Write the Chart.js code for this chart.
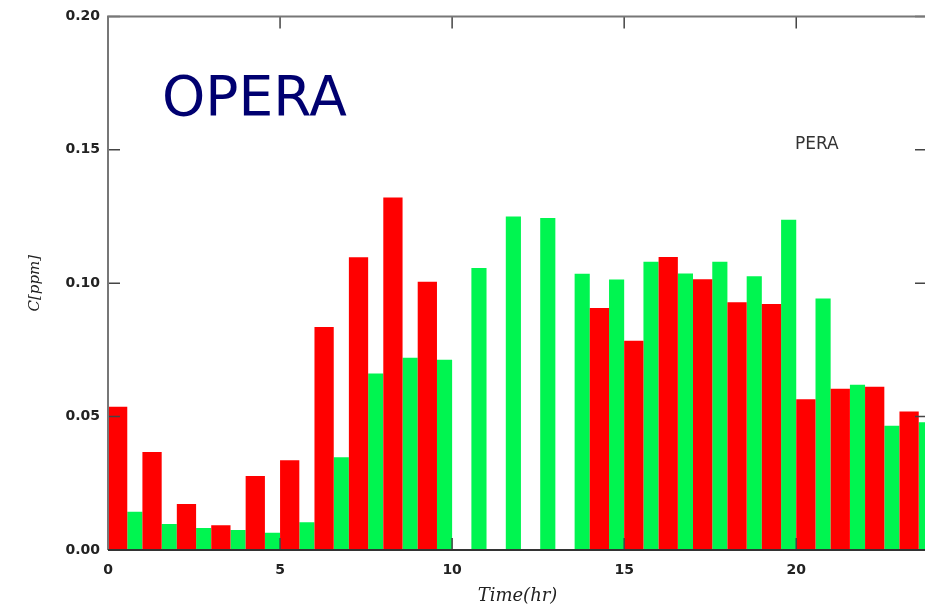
<!DOCTYPE html>
<html>
<head>
<meta charset="utf-8">
<script src="https://cdn.jsdelivr.net/npm/chart.js@4.4.0/dist/chart.umd.min.js"></script>
<style>
  html, body { margin: 0; padding: 0; background: #fff; overflow: hidden; }
  #wrap { width: 925px; height: 609px; overflow: hidden; }
</style>
</head>
<body>
<div id="wrap"><canvas id="chart" width="935" height="609"></canvas></div>
<script>
// hourly concentrations
const hours = [0, 1, 2, 3, 4, 5, 6, 7, 8, 9, 10, 11, 12, 13, 14, 15, 16, 17, 18, 19, 20, 21, 22, 23];
const redValues = [0.0537, 0.0367, 0.0172, 0.0093, 0.0277, 0.0336, 0.0836, 0.1097, 0.1321, 0.1005,
  0, 0, 0, 0, 0.0907, 0.0784, 0.1098, 0.1015, 0.0929, 0.0922, 0.0565, 0.0604, 0.0612, 0.0519];
const greenValues = [0.0143, 0.0097, 0.0082, 0.0075, 0.0065, 0.0104, 0.0348, 0.0662, 0.0721, 0.0713,
  0.1057, 0.125, 0.1244, 0.1035, 0.1014, 0.108, 0.1036, 0.108, 0.1026, 0.1238, 0.0943, 0.0619, 0.0466, 0.0479];
const xTicks = [0, 5, 10, 15, 20];
const yTicks = [0, 0.05, 0.1, 0.15, 0.2];

const tickFont = { family: "DejaVu Sans", size: 14, weight: "bold" };

// gnuplot-like frame with inward ticks on all sides
const framePlugin = {
  id: "frame",
  afterDatasetsDraw(chart) {
    const { ctx, chartArea: a, scales } = chart;
    const len = 12;
    ctx.save();
    ctx.strokeStyle = "#444";
    ctx.lineWidth = 1.5;
    ctx.beginPath();
    xTicks.forEach((t) => {
      const px = scales.x.getPixelForValue(t);
      ctx.moveTo(px, a.bottom); ctx.lineTo(px, a.bottom - len);
      ctx.moveTo(px, a.top); ctx.lineTo(px, a.top + len);
    });
    yTicks.forEach((t) => {
      const py = scales.y.getPixelForValue(t);
      ctx.moveTo(a.left, py); ctx.lineTo(a.left + len, py);
      ctx.moveTo(a.right, py); ctx.lineTo(a.right - len, py);
    });
    ctx.stroke();

    ctx.lineWidth = 2;
    ctx.strokeStyle = "#777";
    ctx.beginPath();
    ctx.moveTo(a.left, a.bottom); ctx.lineTo(a.left, a.top);
    ctx.lineTo(a.right, a.top); ctx.lineTo(a.right, a.bottom);
    ctx.stroke();
    ctx.strokeStyle = "#333";
    ctx.beginPath();
    ctx.moveTo(a.left, a.bottom); ctx.lineTo(a.right, a.bottom);
    ctx.stroke();

    // labels inside the plot
    ctx.fillStyle = "#000070";
    ctx.font = "55px 'DejaVu Sans'";
    ctx.textBaseline = "alphabetic";
    ctx.fillText("OPERA", 162, 115);
    ctx.fillStyle = "#333";
    ctx.font = "17px 'DejaVu Sans'";
    ctx.fillText("PERA", 795, 149);
    ctx.restore();
  },
};

new Chart(document.getElementById("chart").getContext("2d"), {
  type: "bar",
  data: {
    datasets: [
      {
        label: "red",
        data: hours.map((h, i) => ({ x: h + 0.28, y: redValues[i] })),
        backgroundColor: "#ff0000",
        grouped: false,
        categoryPercentage: 1,
        barPercentage: 1.12,
      },
      {
        label: "green",
        data: hours.map((h, i) => ({ x: h + 0.78, y: greenValues[i] })),
        backgroundColor: "#00f550",
        grouped: false,
        categoryPercentage: 1,
        barPercentage: 0.88,
      },
    ],
  },
  options: {
    responsive: false,
    animation: false,
    layout: { padding: { top: 13, right: 8, left: 0, bottom: 0 } },
    plugins: { legend: { display: false }, tooltip: { enabled: false } },
    scales: {
      x: {
        type: "linear",
        offset: false,
        min: 0,
        max: 23.8,
        grid: { display: false, drawTicks: false, offset: false },
        border: { display: false },
        afterFit: (s) => { s.height = 59; },
        afterBuildTicks: (s) => { s.ticks = xTicks.map((v) => ({ value: v })); },
        ticks: { font: tickFont, color: "#222", padding: 12, maxRotation: 0 },
        title: {
          display: true,
          text: "Time(hr)",
          color: "#222",
          font: { family: "DejaVu Serif", size: 18, style: "italic" },
          padding: { top: 0, bottom: 2 },
        },
      },
      y: {
        min: 0,
        max: 0.2,
        grid: { display: false, drawTicks: false },
        border: { display: false },
        afterFit: (s) => { s.width = 108; },
        afterBuildTicks: (s) => { s.ticks = yTicks.map((v) => ({ value: v })); },
        ticks: { font: tickFont, color: "#222", padding: 8, callback: (v) => v.toFixed(2) },
        title: {
          display: true,
          text: "C[ppm]",
          color: "#222",
          font: { family: "DejaVu Serif", size: 15, style: "italic" },
          padding: { top: 26, bottom: 0 },
        },
      },
    },
  },
  plugins: [framePlugin],
});
</script>
</body>
</html>
